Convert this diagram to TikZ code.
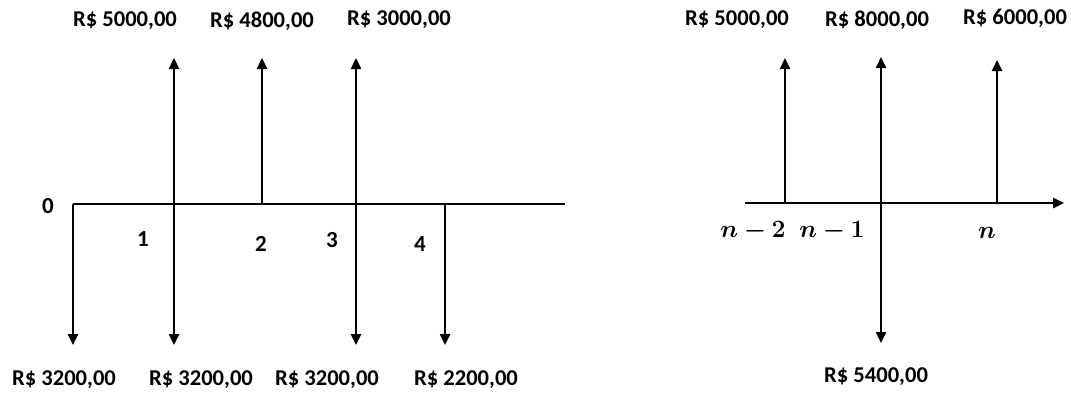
\documentclass[tikz,border=0pt]{standalone}
\usepackage{bm}
\usepackage{fontspec}
\setmainfont{Carlito}
\usetikzlibrary{arrows.meta}
\begin{document}
\begin{tikzpicture}[x=1pt,y=-1pt,
  flow/.style={line width=2.4pt,-{Triangle[width=10pt,length=11pt]}},
  axisline/.style={line width=2.4pt},
  money/.style={font=\fontsize{22.6}{26}\selectfont\bfseries, inner sep=0pt},
  ticklbl/.style={font=\fontsize{23}{26}\selectfont\bfseries, inner sep=0pt},
  mathlbl/.style={font=\fontsize{23}{26}\selectfont, inner sep=0pt}]
\useasboundingbox (0,0) rectangle (1071,392);
% ---------- left diagram ----------
\coordinate (a0) at (73,204);
\coordinate (a1) at (174,204);
\coordinate (a2) at (262,204);
\coordinate (a3) at (356,204);
\coordinate (a4) at (445,204);
\coordinate (aend) at (565,204);
\coordinate (u1) at (174,58);
\coordinate (u2) at (262,58);
\coordinate (u3) at (356,58);
\coordinate (d0) at (73,345);
\coordinate (d1) at (174,345);
\coordinate (d3) at (356,345);
\coordinate (d4) at (445,345);
\draw[axisline] (a0) -- (aend);
\draw[flow] (a1) -- (u1);
\draw[flow] (a2) -- (u2);
\draw[flow] (a3) -- (u3);
\draw[flow] (a0) -- (d0);
\draw[flow] (a1) -- (d1);
\draw[flow] (a3) -- (d3);
\draw[flow] (a4) -- (d4);
\node[money] (t1) at (125,21) {R\$ 5000,00};
\node[money] (t2) at (262,21) {R\$ 4800,00};
\node[money] (t3) at (399,20) {R\$ 3000,00};
\node[money] (b0) at (64,380) {R\$ 3200,00};
\node[money] (b1) at (201,380) {R\$ 3200,00};
\node[money] (b3) at (327,380) {R\$ 3200,00};
\node[money] (b4) at (466,380) {R\$ 2200,00};
\node[ticklbl] (n0) at (48,206) {0};
\node[ticklbl] (n1) at (143,239) {1};
\node[ticklbl] (n2) at (261,244) {2};
\node[ticklbl] (n3) at (332,240) {3};
\node[ticklbl] (n4) at (420,244) {4};
% ---------- right diagram ----------
\coordinate (r0) at (745,203);
\coordinate (rA) at (785,203);
\coordinate (rB) at (881,203);
\coordinate (rC) at (997,203);
\coordinate (rend) at (1064,203);
\coordinate (vA) at (785,58);
\coordinate (vB) at (881,57);
\coordinate (vC) at (997,60);
\coordinate (wB) at (881,343);
\draw[flow] (r0) -- (rend);
\draw[flow] (rA) -- (vA);
\draw[flow] (rB) -- (vB);
\draw[flow] (rC) -- (vC);
\draw[flow] (rB) -- (wB);
\node[money] (s1) at (737,20) {R\$ 5000,00};
\node[money] (s2) at (877,20) {R\$ 8000,00};
\node[money] (s3) at (1015,18) {R\$ 6000,00};
\node[money] (s4) at (876,377) {R\$ 5400,00};
\node[mathlbl] (m2) at (753,231) {$\bm{n-2}$};
\node[mathlbl] (m1) at (832,231) {$\bm{n-1}$};
\node[mathlbl] (m0) at (987,233) {$\bm{n}$};
\end{tikzpicture}
\end{document}
